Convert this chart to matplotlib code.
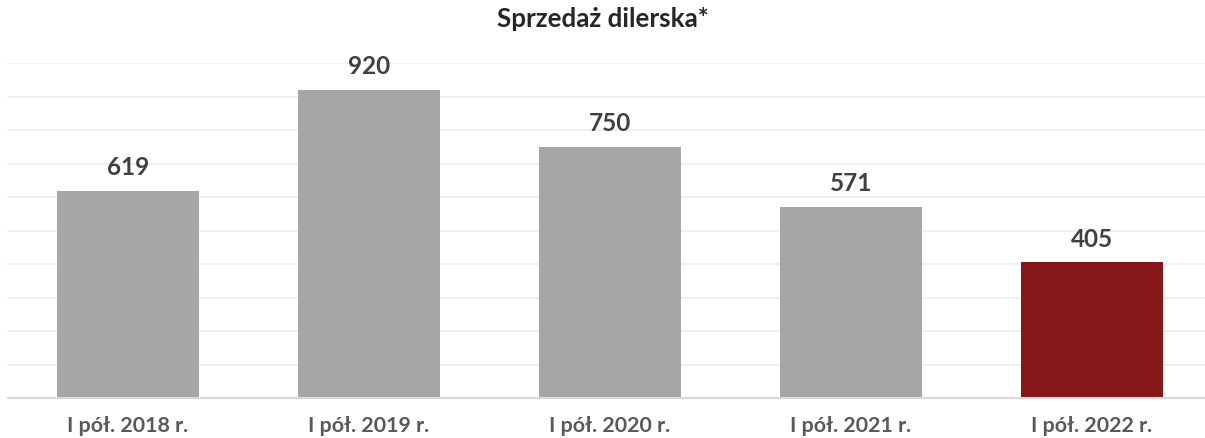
import matplotlib
matplotlib.use("Agg")
import matplotlib.pyplot as plt

categories = ["I pół. 2018 r.", "I pół. 2019 r.", "I pół. 2020 r.", "I pół. 2021 r.", "I pół. 2022 r."]
values = [619, 920, 750, 571, 405]
colors = ["#A6A6A6", "#A6A6A6", "#A6A6A6", "#A6A6A6", "#861719"]
title = "Sprzedaż dilerska*"

plt.rcParams['font.family'] = ['Lato', 'DejaVu Sans']

fig = plt.figure(figsize=(12.05, 4.39), dpi=100)
ax = fig.add_axes([7.5/1205, 1 - 399/439, 1205/1205, (399-64)/439])

x = list(range(len(categories)))
ax.bar(x, values, width=0.59, color=colors, zorder=3)
for xi, v in zip(x, values):
    ax.text(xi, v + 37, str(v), ha='center', va='bottom', fontsize=17.5,
            fontweight='bold', color='#404040')

ax.set_xlim(-0.5, len(categories) - 0.5)
ax.set_ylim(0, 1000)
ax.set_yticks(range(0, 1001, 100))
ax.yaxis.grid(True, color='#EEEEEE', linewidth=1.2, zorder=0)
ax.tick_params(axis='y', left=False, labelleft=False)
ax.tick_params(axis='x', bottom=False, pad=9)
ax.set_xticks(x)
ax.set_xticklabels(categories, fontsize=15.4, fontweight='bold', color='#595959')
for s in ['top', 'left', 'right']:
    ax.spines[s].set_visible(False)
ax.spines['bottom'].set_color('#D9D9D9')
ax.spines['bottom'].set_linewidth(1.5)
ax.spines['bottom'].set_zorder(4)

fig.text(0.5, 1 - 19/439, title, ha='center', va='center', fontsize=18.7,
         fontweight='bold', color='#262626')

fig.savefig("out.png", dpi=100)
